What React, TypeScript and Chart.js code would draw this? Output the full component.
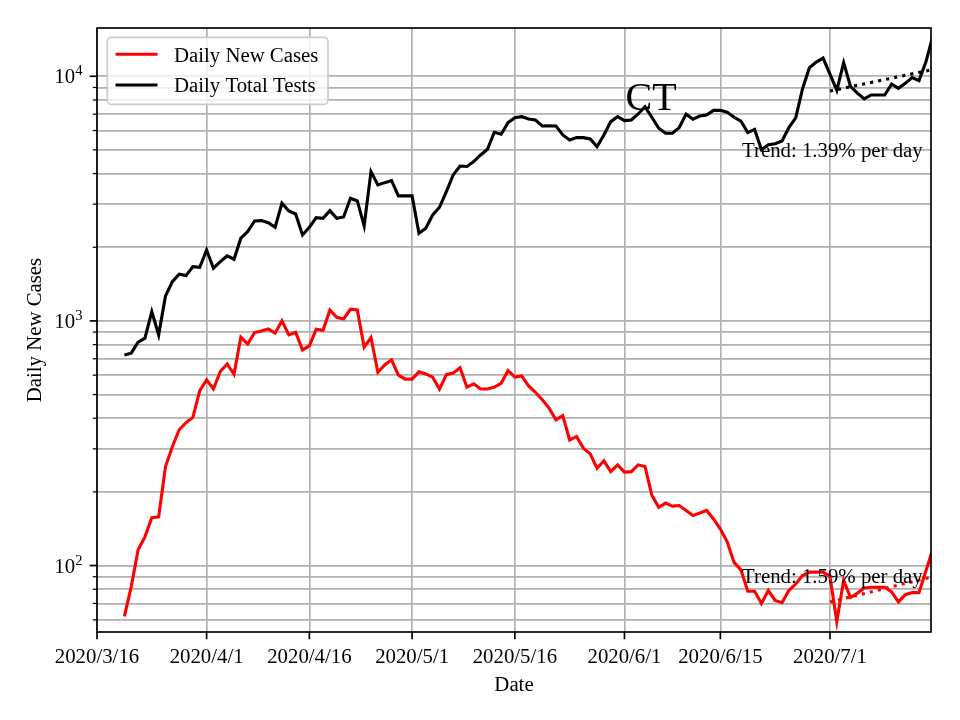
import React, { useEffect, useRef } from 'react';
import { Chart, registerables } from 'chart.js';

Chart.register(...registerables);

// ---------- data ----------
const axisStartDate = '2020-03-16';
const axisEndDay = 121.75; // days after axis start (right edge of plot)
const firstDataDate = '2020-03-20';

const dailyNewCases = [
  62, 82, 116, 131, 157, 158, 254, 306, 359, 384, 403, 519, 574, 527, 621, 667, 605,
  858, 805, 896, 910, 928, 891, 1000, 877, 899, 761, 790, 925, 916, 1109, 1035, 1019,
  1116, 1109, 781, 855, 617, 661, 693, 600, 578, 578, 619, 607, 589, 526, 603, 612,
  643, 536, 553, 527, 527, 536, 556, 627, 589, 596, 542, 511, 476, 440, 394, 410, 326,
  337, 302, 286, 250, 268, 242, 258, 241, 242, 258, 254, 194, 173, 180, 175, 176, 168,
  160, 164, 168, 155, 141, 125, 103, 96, 78.5, 78.5, 70, 79, 72, 70.5, 79, 84, 91,
  94, 94, 94, 90, 59, 87, 74, 77, 81, 81.5, 81.5, 81.5, 78, 71, 76, 77.5, 77.5, 95, 116,
];

const dailyTotalTests = [
  726, 738, 818, 850, 1092, 877, 1265, 1448, 1552, 1532, 1667, 1655, 1950, 1642, 1748,
  1843, 1787, 2178, 2317, 2563, 2570, 2521, 2414, 3027, 2815, 2736, 2246, 2414, 2644,
  2626, 2824, 2626, 2661, 3172, 3093, 2445, 4075, 3595, 3674, 3745, 3243, 3243, 3243,
  2282, 2392, 2711, 2914, 3376, 3951, 4298, 4280, 4477, 4766, 5031, 5902, 5794, 6462,
  6773, 6838, 6690, 6628, 6266, 6280, 6266, 5754, 5492, 5612, 5612, 5540, 5157, 5754,
  6524, 6838, 6586, 6628, 7014, 7512, 6800, 6131, 5848, 5848, 6170, 7000, 6680, 6880,
  6950, 7256, 7256, 7127, 6800, 6560, 5888, 6062, 5008, 5248, 5300, 5440, 6170, 6755,
  8900, 10835, 11430, 11870, 10200, 8756, 11366, 9085, 8535, 8085, 8386, 8386, 8386,
  9296, 8925, 9354, 9886, 9600, 11430, 14520,
];

const trendDates = ['2020-07-01', '2020-07-16'];
const casesTrend = [71, 90];
const testsTrend = [8700, 10650];

const xTickDates = ['2020-03-16', '2020-04-01', '2020-04-16', '2020-05-01', '2020-05-16', '2020-06-01', '2020-06-15', '2020-07-01'];
const xTickLabels = ['2020/3/16', '2020/4/1', '2020/4/16', '2020/5/1', '2020/5/16', '2020/6/1', '2020/6/15', '2020/7/1'];

const yMajorTicks = [100, 1000, 10000];
const yMajorExponents = ['2', '3', '4'];
const yMinorTicks = [60, 70, 80, 90, 200, 300, 400, 500, 600, 700, 800, 900, 2000, 3000, 4000, 5000, 6000, 7000, 8000, 9000];
const yMin = 53.5;
const yMax = 15750;

const seriesNames = ['Daily New Cases', 'Daily Total Tests'];
const seriesColors = ['#ff0000', '#000000'];
const trendLabels = ['Trend: 1.59% per day', 'Trend: 1.39% per day'];
const trendLabelDay = 107.35;
const trendLabelValues = [85.2, 4677];
const stateLabel = 'CT';
const stateLabelDate = '2020-06-01';
const stateLabelValue = 7280;

// ---------- helpers ----------
const DAY_MS = 86400000;
const parseUTC = (s: string) => {
  const [a, b, c] = s.split('-').map(Number);
  return Date.UTC(a, b - 1, c);
};
const dayOf = (s: string) => Math.round((parseUTC(s) - parseUTC(axisStartDate)) / DAY_MS);

const firstDay = dayOf(firstDataDate);
const toPoints = (vals: number[]) => vals.map((v, i) => ({ x: firstDay + i, y: v }));
const trendPoints = (vals: number[]) => vals.map((v, i) => ({ x: dayOf(trendDates[i]), y: v }));

const FONT = '"Liberation Serif", "Times New Roman", serif';
const FS = 20.8;
const LW = 3.1;

const overlay = {
  id: 'overlay',
  afterDraw(chart: any) {
    const { ctx, chartArea: a, scales } = chart;
    const xs = scales.x;
    const ys = scales.y;
    ctx.save();

    // spines
    ctx.strokeStyle = '#000';
    ctx.lineWidth = 1.67;
    ctx.strokeRect(a.left, a.top, a.right - a.left, a.bottom - a.top);

    // x ticks + labels
    ctx.fillStyle = '#000';
    ctx.font = `${FS}px ${FONT}`;
    ctx.textAlign = 'center';
    ctx.textBaseline = 'alphabetic';
    xTickDates.forEach((d, i) => {
      const px = xs.getPixelForValue(dayOf(d));
      ctx.beginPath();
      ctx.moveTo(px, a.bottom);
      ctx.lineTo(px, a.bottom + 7.3);
      ctx.lineWidth = 1.67;
      ctx.stroke();
      ctx.fillText(xTickLabels[i], px, 663);
    });

    // y ticks
    yMinorTicks.forEach((v) => {
      const py = ys.getPixelForValue(v);
      ctx.beginPath();
      ctx.moveTo(a.left - 4.2, py);
      ctx.lineTo(a.left, py);
      ctx.lineWidth = 1.25;
      ctx.stroke();
    });
    yMajorTicks.forEach((v, i) => {
      const py = ys.getPixelForValue(v);
      ctx.beginPath();
      ctx.moveTo(a.left - 7.3, py);
      ctx.lineTo(a.left, py);
      ctx.lineWidth = 1.67;
      ctx.stroke();
      // label "10" with superscript exponent, right aligned
      const right = a.left - 14.6;
      ctx.textAlign = 'left';
      ctx.font = `${FS * 0.7}px ${FONT}`;
      const ew = ctx.measureText(yMajorExponents[i]).width;
      ctx.font = `${FS}px ${FONT}`;
      const bw = ctx.measureText('10').width;
      const x0 = right - ew - bw;
      ctx.fillText('10', x0, py + 7);
      ctx.font = `${FS * 0.7}px ${FONT}`;
      ctx.fillText(yMajorExponents[i], x0 + bw, py - 1);
    });

    // axis titles
    ctx.font = `${FS}px ${FONT}`;
    ctx.textAlign = 'center';
    ctx.textBaseline = 'alphabetic';
    ctx.fillText('Date', (a.left + a.right) / 2, 691);
    ctx.save();
    ctx.translate(41, (a.top + a.bottom) / 2);
    ctx.rotate(-Math.PI / 2);
    ctx.fillText('Daily New Cases', 0, 0);
    ctx.restore();

    // annotations
    ctx.textAlign = 'center';
    ctx.font = `${FS}px ${FONT}`;
    trendLabels.forEach((t, i) => {
      ctx.fillText(t, xs.getPixelForValue(trendLabelDay), ys.getPixelForValue(trendLabelValues[i]));
    });
    ctx.textAlign = 'left';
    ctx.font = `40px ${FONT}`;
    ctx.fillText(stateLabel, xs.getPixelForValue(dayOf(stateLabelDate)) + 1, ys.getPixelForValue(stateLabelValue));

    // legend
    const lx = 107.3, ly = 37.3, lw = 220.7, lh = 67;
    ctx.beginPath();
    ctx.roundRect(lx, ly, lw, lh, 4);
    ctx.fillStyle = 'rgba(255,255,255,0.8)';
    ctx.fill();
    ctx.strokeStyle = '#cccccc';
    ctx.lineWidth = 1.67;
    ctx.stroke();
    const rowsLine = [54.3, 85];
    const rowsText = [61.7, 92.3];
    seriesNames.forEach((n, i) => {
      ctx.beginPath();
      ctx.moveTo(115.5, rowsLine[i]);
      ctx.lineTo(157.5, rowsLine[i]);
      ctx.strokeStyle = seriesColors[i];
      ctx.lineWidth = LW;
      ctx.stroke();
      ctx.fillStyle = '#000';
      ctx.font = `${FS}px ${FONT}`;
      ctx.textAlign = 'left';
      ctx.fillText(n, 174, rowsText[i]);
    });

    ctx.restore();
  },
};

export default function App() {
  const ref = useRef<HTMLCanvasElement>(null);
  useEffect(() => {
    const canvas = ref.current!;
    const chart = new Chart(canvas, {
      type: 'line',
      data: {
        datasets: [
          {
            label: seriesNames[0],
            data: toPoints(dailyNewCases),
            borderColor: seriesColors[0],
            borderWidth: LW,
            pointRadius: 0,
            tension: 0,
            fill: false,
            clip: 0,
          },
          {
            label: seriesNames[1],
            data: toPoints(dailyTotalTests),
            borderColor: seriesColors[1],
            borderWidth: LW,
            pointRadius: 0,
            tension: 0,
            fill: false,
            clip: 0,
          },
          {
            label: 'cases trend',
            data: trendPoints(casesTrend),
            borderColor: seriesColors[0],
            borderWidth: LW,
            borderDash: [3.1, 5.1],
            pointRadius: 0,
            fill: false,
            clip: 0,
          },
          {
            label: 'tests trend',
            data: trendPoints(testsTrend),
            borderColor: seriesColors[1],
            borderWidth: LW,
            borderDash: [3.1, 5.1],
            pointRadius: 0,
            fill: false,
            clip: 0,
          },
        ],
      } as any,
      options: {
        responsive: false,
        animation: false,
        events: [],
        layout: { padding: { left: 0, top: 28, right: 29, bottom: 0 } },
        plugins: { legend: { display: false }, tooltip: { enabled: false }, title: { display: false } },
        scales: {
          x: {
            type: 'linear',
            min: 0,
            max: axisEndDay,
            ticks: { display: false },
            grid: { color: '#b0b0b0', lineWidth: 1.67, drawTicks: false },
            border: { display: false },
            afterBuildTicks: (s: any) => {
              s.ticks = xTickDates.map((d) => ({ value: dayOf(d) }));
            },
            afterFit: (s: any) => {
              s.height = 88;
            },
          },
          y: {
            type: 'logarithmic',
            min: yMin,
            max: yMax,
            ticks: { display: false },
            grid: { color: '#b0b0b0', lineWidth: 1.67, drawTicks: false },
            border: { display: false },
            afterBuildTicks: (s: any) => {
              s.ticks = [...yMinorTicks, ...yMajorTicks].sort((p, q) => p - q).map((v) => ({ value: v }));
            },
            afterFit: (s: any) => {
              s.width = 97;
            },
          },
        },
      } as any,
      plugins: [overlay],
    });
    return () => chart.destroy();
  }, []);
  return (
    <div style={{ position: 'absolute', left: 0, top: 0, width: 960, height: 720, background: '#fff' }}>
      <canvas ref={ref} width={960} height={720} style={{ display: 'block' }} />
    </div>
  );
}
